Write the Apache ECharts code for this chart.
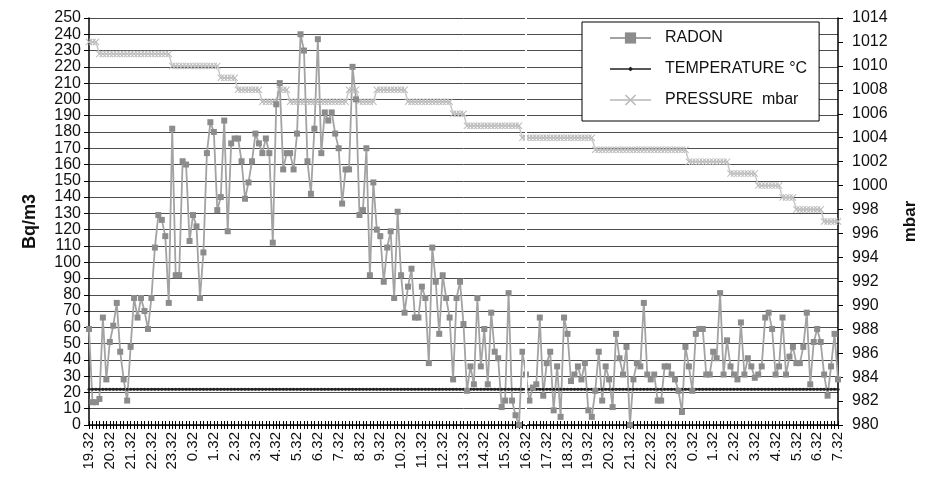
<!DOCTYPE html>
<html><head><meta charset="utf-8">
<script src="https://cdn.jsdelivr.net/npm/echarts@6/dist/echarts.min.js"></script>
<style>html,body{margin:0;padding:0;background:#fff}#c{width:927px;height:491px}</style>
</head><body><div id="c"></div>
<script>
// Hourly tick labels (one label every 6 samples, 10-minute sampling)
const hourLabels = ['19.32','20.32','21.32','22.32','23.32','0.32','1.32','2.32','3.32','4.32','5.32','6.32','7.32','8.32','9.32','10.32','11.32','12.32','13.32','14.32','15.32','16.32','17.32','18.32','19.32','20.32','21.32','22.32','23.32','0.32','1.32','2.32','3.32','4.32','5.32','6.32','7.32'];
const samplesPerLabel = 6;

// RADON, Bq/m3 (left axis)
const radon = [
 59,14,14,16,66,28,51,61,75,45,
 28,15,48,78,66,78,70,59,78,109,
 129,126,116,75,182,92,92,162,160,113,
 129,122,78,106,167,186,180,132,140,187,
 119,173,176,176,162,139,149,162,
 179,173,167,176,167,112,197,210,157,167,
 167,157,179,240,230,162,142,182,237,167,
 192,187,192,179,170,136,157,157,220,200,
 129,132,170,92,149,120,116,88,109,119,
 78,131,92,69,85,96,66,
 66,85,78,38,109,88,56,92,78,66,
 28,78,88,62,21,36,25,78,36,59,
 25,69,45,41,11,15,81,15,6,0,
 45,31,15,23,25,66,18,38,45,9,
 36,5,66,56,27,31,36,
 28,38,9,5,21,45,15,36,28,11,
 56,41,31,48,0,28,38,36,75,31,
 28,31,15,15,36,36,31,28,21,8,
 48,36,21,56,59,59,31,31,45,41,
 81,31,52,36,31,28,63,
 31,41,36,29,31,36,66,69,59,31,
 36,66,31,42,48,38,38,48,69,25,
 51,59,51,31,18,36,56,28
];

// TEMPERATURE °C (left axis)
const temperature = [
 22,22,22,22,22,22,22,22,22,22,22,22,22,22,22,22,22,22,22,22,
 22,22,22,22,22,22,22,22,22,22,22,22,22,22,22,22,22,22,22,22,
 22,22,22,22,22,22,22,22,22,22,22,22,22,22,22,22,22,22,22,22,
 22,22,22,22,22,22,22,22,22,22,22,22,22,22,22,22,22,22,22,22,
 22,22,22,22,22,22,22,22,22,22,22,22,22,22,22,22,22,22,22,22,
 22,22,22,22,22,22,22,22,22,22,22,22,22,22,22,22,22,22,22,22,
 22,22,22,22,22,22,22,22,22,22,22,22,22,22,22,22,22,22,22,22,
 22,22,22,22,22,22,22,22,22,22,22,22,22,22,22,22,22,22,22,22,
 22,22,22,22,22,22,22,22,22,22,22,22,22,22,22,22,22,22,22,22,
 22,22,22,22,22,22,22,22,22,22,22,22,22,22,22,22,22,22,22,22,
 22,22,22,22,22,22,22,22,22,22,22,22,22,22,22,22,22
];

// PRESSURE mbar (right axis)
const pressure = [
 1012,1012,1012,
 1011,1011,1011,1011,1011,1011,1011,1011,1011,1011,1011,1011,1011,1011,1011,1011,1011,1011,1011,1011,1011,
 1010,1010,1010,1010,1010,1010,1010,1010,1010,1010,1010,1010,1010,1010,
 1009,1009,1009,1009,1009,
 1008,1008,1008,1008,1008,1008,1008,
 1007,1007,1007,1007,1007,
 1008,1008,1008,
 1007,1007,1007,1007,1007,1007,1007,1007,1007,1007,1007,1007,1007,1007,1007,1007,1007,
 1008,1008,1008,
 1007,1007,1007,1007,1007,
 1008,1008,1008,1008,1008,1008,1008,1008,1008,
 1007,1007,1007,1007,1007,1007,1007,1007,1007,1007,1007,1007,1007,
 1006,1006,1006,1006,
 1005,1005,1005,1005,1005,1005,1005,1005,1005,1005,1005,1005,1005,1005,1005,1005,
 1004,1004,1004,1004,1004,1004,1004,1004,1004,1004,1004,1004,1004,1004,1004,1004,1004,1004,1004,1004,1004,
 1003,1003,1003,1003,1003,1003,1003,1003,1003,1003,1003,1003,1003,1003,1003,1003,1003,1003,1003,1003,1003,1003,1003,1003,1003,1003,1003,
 1002,1002,1002,1002,1002,1002,1002,1002,1002,1002,1002,1002,
 1001,1001,1001,1001,1001,1001,1001,1001,
 1000,1000,1000,1000,1000,1000,1000,
 999,999,999,999,
 998,998,998,998,998,998,998,998,
 997,997,997,997,997
];

const categories = radon.map((_, i) =>
  i + '|' + (i % samplesPerLabel === 0 ? hourLabels[i / samplesPerLabel] : ''));
const gapCategory = categories[126];

const FONT = "'Liberation Sans', Arial, Helvetica, sans-serif";
const xSymbol = 'path://M0,1L1,0L5,4L9,0L10,1L6,5L10,9L9,10L5,6L1,10L0,9L4,5Z';
const tempLegendIcon = 'path://M0,0L0.1,0L0,0.1Z M41,14L40.9,14L41,13.9Z M0,6.2L18.5,6.2L20.5,4.8L22.5,6.2L41,6.2L41,7.8L22.5,7.8L20.5,9.2L18.5,7.8L0,7.8Z';

const chart = echarts.init(document.getElementById('c'), null, {renderer: 'canvas'});
chart.setOption({
  animation: false,
  backgroundColor: '#ffffff',
  grid: {left: 89, right: 85, top: 18, bottom: 66},
  legend: {
    data: ['RADON', {name: 'TEMPERATURE °C', icon: tempLegendIcon}, 'PRESSURE  mbar'],
    orient: 'vertical', left: 582, top: 22,
    padding: [8, 12, 13, 27],
    itemWidth: 41, itemHeight: 14, itemGap: 15,
    backgroundColor: '#ffffff', borderColor: '#000', borderWidth: 1,
    selectedMode: false,
    textStyle: {fontSize: 16, color: '#111', fontFamily: FONT, padding: [0, 0, 0, 9], lineHeight: 16}
  },
  xAxis: [{
    type: 'category', data: categories, boundaryGap: false,
    axisLine: {lineStyle: {color: '#000', width: 1.5}},
    axisTick: {interval: 0, length: 4, lineStyle: {color: '#000'}},
    axisLabel: {interval: samplesPerLabel - 1, rotate: 90, fontSize: 15, color: '#111', fontFamily: FONT, margin: 7,
      formatter: v => v.split('|')[1]},
    splitLine: {show: false}
  }, {
    type: 'category', data: categories, boundaryGap: false, position: 'bottom',
    axisLine: {show: false},
    axisTick: {inside: true, interval: 0, length: 4, lineStyle: {color: '#000'}},
    axisLabel: {show: false}, splitLine: {show: false}
  }],
  yAxis: [{
    type: 'value', min: 0, max: 250, interval: 10,
    name: 'Bq/m3', nameLocation: 'middle', nameRotate: 90, nameGap: 50,
    nameTextStyle: {fontSize: 18, fontWeight: 'bold', fontFamily: FONT, color: '#111'},
    axisLine: {show: true, lineStyle: {color: '#000', width: 1.5}},
    axisTick: {show: true, length: 5, lineStyle: {color: '#000'}},
    axisLabel: {fontSize: 16, color: '#111', fontFamily: FONT, margin: 8},
    splitLine: {show: true, lineStyle: {color: '#4d4d4d', width: 1}}
  }, {
    type: 'value', min: 980, max: 1014, interval: 2, position: 'right',
    name: 'mbar', nameLocation: 'middle', nameRotate: 90, nameGap: 64,
    nameTextStyle: {fontSize: 17, fontWeight: 'bold', fontFamily: FONT, color: '#111'},
    axisLine: {show: true, lineStyle: {color: '#000', width: 1.5}},
    axisTick: {show: true, length: 5, lineStyle: {color: '#000'}},
    axisLabel: {fontSize: 16, color: '#111', fontFamily: FONT, margin: 14, formatter: v => String(v)},
    splitLine: {show: false}
  }],
  series: [{
    name: 'PRESSURE  mbar', type: 'line', yAxisIndex: 1, data: pressure,
    symbol: xSymbol, symbolSize: 7, showAllSymbol: true,
    lineStyle: {color: '#c9c9c9', width: 1.5},
    itemStyle: {color: '#bababa'},
    emphasis: {disabled: true},
    markLine: {
      silent: true, symbol: 'none', label: {show: false},
      lineStyle: {color: '#ffffff', width: 2, type: 'solid'},
      data: [{xAxis: gapCategory}]
    }
  }, {
    name: 'TEMPERATURE °C', type: 'line', data: temperature,
    symbol: 'circle', symbolSize: 3, showAllSymbol: true,
    lineStyle: {color: '#222', width: 2},
    itemStyle: {color: '#222'},
    emphasis: {disabled: true}
  }, {
    name: 'RADON', type: 'line', data: radon,
    symbol: 'rect', symbolSize: 6, showAllSymbol: true,
    lineStyle: {color: '#a3a3a3', width: 1.8},
    itemStyle: {color: '#8c8c8c'},
    emphasis: {disabled: true}
  }]
});
</script>
</body></html>
